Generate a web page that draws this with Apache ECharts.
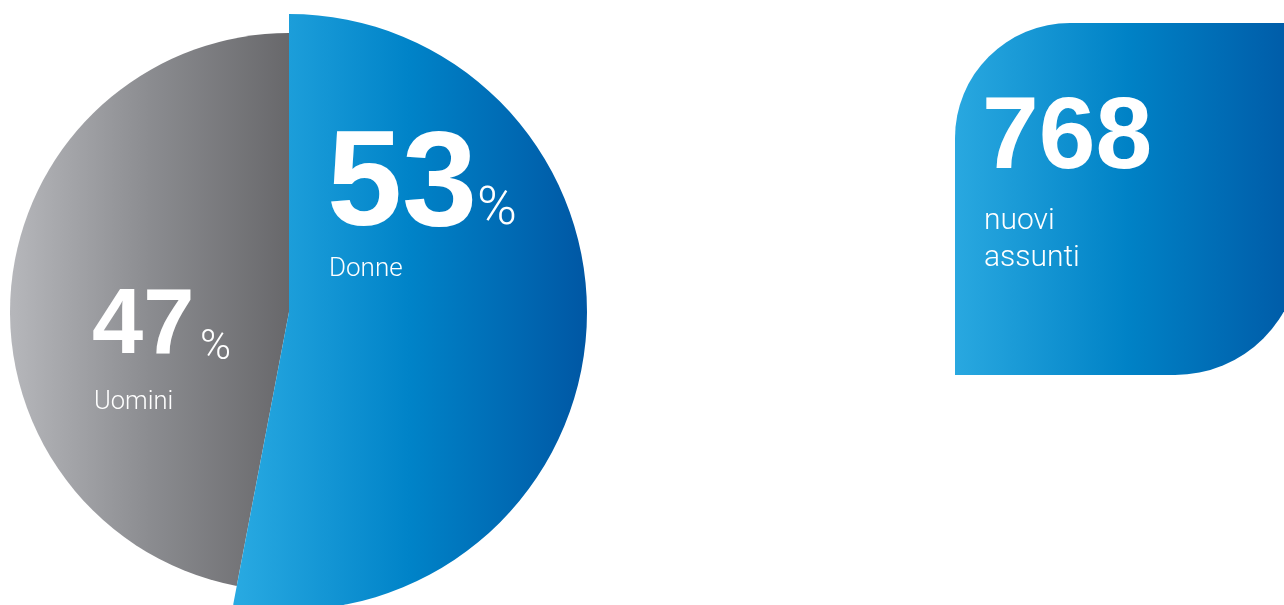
<!DOCTYPE html>
<html>
<head>
<meta charset="utf-8">
<title>Nuovi assunti per genere</title>
<script src="https://cdn.jsdelivr.net/npm/echarts@6/dist/echarts.min.js"></script>
<style>
  html, body { margin: 0; padding: 0; background: #ffffff; }
  #chart { width: 1284px; height: 605px; }
</style>
</head>
<body>
<div id="chart"></div>
<script>
// Gender split of new hires (percent) and total count
const genders = ['Donne', 'Uomini'];
const shares = [53, 47];
const totalHires = 768;
const totalLabel = ['nuovi', 'assunti'];

const chart = echarts.init(document.getElementById('chart'), null, { renderer: 'canvas' });

const hGrad = (c0, c1, mid) => new echarts.graphic.LinearGradient(0, 0, 1, 0,
  mid ? [{ offset: 0, color: c0 }, { offset: 0.5, color: mid }, { offset: 1, color: c1 }]
      : [{ offset: 0, color: c0 }, { offset: 1, color: c1 }]);

const blueFill = hGrad('#29aae2', '#0057a4', '#0083c8');
const grayFill = hGrad('#b6b7bb', '#68686b', '#8b8c90');
const hidden = { color: 'rgba(0,0,0,0)', borderWidth: 0 };

const CENTER = [289, 312];
const BOLD = '"Liberation Sans", Arial, sans-serif';
const LIGHT = 'Roboto, "Liberation Sans", sans-serif';

// Each slice is drawn by its own pie so the two can have different radii
function slicePie(idx, radius, fill, z) {
  return {
    type: 'pie',
    name: genders[idx],
    center: CENTER,
    radius: [0, radius],
    startAngle: 90,
    clockwise: true,
    silent: true,
    z: z,
    label: { show: false },
    labelLine: { show: false },
    emphasis: { disabled: true },
    data: genders.map((g, i) => ({
      name: g,
      value: shares[i],
      itemStyle: i === idx ? { color: fill, borderWidth: 0 } : hidden
    }))
  };
}

function txt(x, y, text, size, weight, family) {
  return {
    type: 'text', x: x, y: y, z: 100, silent: true,
    style: {
      text: String(text), fill: '#ffffff',
      font: weight + ' ' + size + 'px ' + family,
      align: 'left', verticalAlign: 'middle'
    }
  };
}

chart.setOption({
  animation: false,
  backgroundColor: '#ffffff',
  series: [
    slicePie(1, 279, grayFill, 1),
    slicePie(0, 298, blueFill, 2)
  ],
  graphic: [
    {
      type: 'rect', z: 50, silent: true,
      shape: { x: 955, y: 23, width: 345, height: 352, r: [115, 0, 125, 0] },
      style: { fill: hGrad('#29a8e0', '#0059a6', '#0082c6') }
    },
    txt(327, 188, shares[0], 135, 'bold', BOLD),
    txt(477, 210, '%', 54, '300', LIGHT),
    txt(329, 269, genders[0], 26, '300', LIGHT),
    txt(92, 328, shares[1], 92, 'bold', BOLD),
    txt(200, 348, '%', 42, '300', LIGHT),
    txt(94, 403, genders[1], 25.5, '300', LIGHT),
    txt(982, 140, totalHires, 102, 'bold', BOLD),
    txt(984, 221, totalLabel[0], 30, '300', LIGHT),
    txt(984, 258, totalLabel[1], 30, '300', LIGHT)
  ]
});
</script>
</body>
</html>
